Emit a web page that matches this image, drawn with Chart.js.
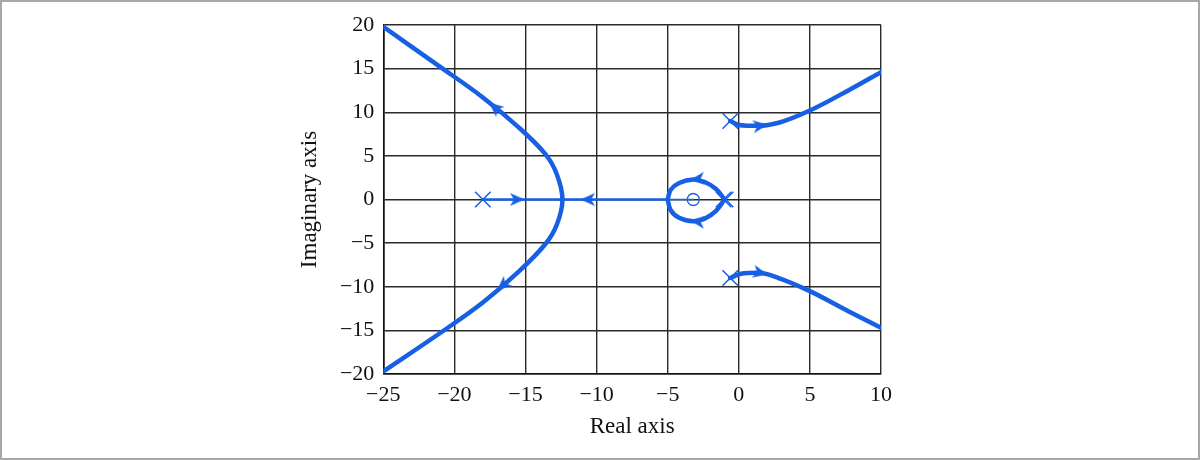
<!DOCTYPE html>
<html>
<head>
<meta charset="utf-8">
<script src="https://cdn.jsdelivr.net/npm/chart.js@4.4.1/dist/chart.umd.min.js"></script>
<style>
  html, body { margin: 0; padding: 0; background: #fff; }
  canvas { display: block; }
</style>
</head>
<body>
<canvas id="locusChart" width="1200" height="460"></canvas>
<script>
// root locus branches (real, imaginary)
const leftBranch = [
  [-25, 19.8], [-21, 15.2], [-18, 11.7], [-15.5, 8.3], [-13.6, 5.2], [-12.8, 2.9], [-12.4, 0],
  [-12.8, -2.9], [-13.6, -5.1], [-15.5, -8.3], [-18, -11.8], [-21, -15.3], [-25, -19.7]
];
const axisFromPole = [[-18, 0], [-12.4, 0]];
const axisToBreak = [[-12.4, 0], [-5, 0]];
const axisToZero = [[-5, 0], [-3.2, 0]];
const loopTop = [[-1, 0], [-1.6, 1.2], [-2.4, 2.0], [-3.2, 2.3], [-4.2, 1.9], [-4.8, 1.1], [-5, 0]];
const loopBottom = [[-1, 0], [-1.6, -1.3], [-2.4, -2.2], [-3.2, -2.5], [-4.2, -2.1], [-4.8, -1.2], [-5, 0]];
const upperRight = [[-0.6, 9], [0, 8.55], [1.4, 8.45], [2.8, 8.8], [5, 10.2], [7.7, 12.5], [10, 14.6]];
const lowerRight = [[-0.6, -9], [0.15, -8.5], [1.4, -8.4], [2.8, -9.0], [5, -10.5], [7.7, -12.8], [10, -14.7]];

// open-loop poles and zeros
const poles = [[-18, 0], [-1.07, 0], [-0.93, 0], [-0.6, 9], [-0.6, -9]];
const zeros = [[-3.2, 0]];

// direction arrows: where they sit, and a point further along the branch
const arrowAt = [[-17.15, 10.55], [-16.6, -9.84], [-15.6, 0], [-10.6, 0], [-2.9, 2.33], [-2.9, -2.52], [1.5, 8.45], [1.5, -8.4]];
const arrowToward = [[-18, 11.7], [-17.4, -10.95], [-14, 0], [-12, 0], [-3.6, 2.2], [-3.6, -2.4], [2.6, 8.7], [2.6, -8.8]];

const xTicks = [-25, -20, -15, -10, -5, 0, 5, 10];
const yTicks = [-20, -15, -10, -5, 0, 5, 10, 15, 20];

const BLUE = '#1760e4';
const SERIF = "'Liberation Serif', 'Times New Roman', serif";

function pts(list) {
  return list.map(p => ({ x: p[0], y: p[1] }));
}

function lineSet(list, width, mode) {
  return {
    data: pts(list),
    showLine: true,
    borderColor: BLUE,
    borderWidth: width,
    pointRadius: 0,
    tension: mode === 'curve' ? 0.35 : 0,
    cubicInterpolationMode: mode === 'monotone' ? 'monotone' : 'default',
    borderCapStyle: 'round',
    borderJoinStyle: 'round',
    fill: false
  };
}

// arrowhead sprite pointing up
function makeArrow() {
  const c = document.createElement('canvas');
  c.width = 16;
  c.height = 16;
  const g = c.getContext('2d');
  g.fillStyle = BLUE;
  g.beginPath();
  g.moveTo(8, 0.5);
  g.lineTo(14.5, 15);
  g.lineTo(8, 11);
  g.lineTo(1.5, 15);
  g.closePath();
  g.fill();
  return c;
}
const arrowImg = makeArrow();

const minus = v => String(v).replace('-', '\u2212');

const frame = {
  id: 'frame',
  afterDraw(chart) {
    const ctx = chart.ctx;
    ctx.save();
    ctx.strokeStyle = '#a8a8a8';
    ctx.lineWidth = 2;
    ctx.strokeRect(1, 1, 1198, 458);
    ctx.restore();
  }
};

const ctx = document.getElementById('locusChart').getContext('2d');
new Chart(ctx, {
  type: 'scatter',
  data: {
    datasets: [
      lineSet(leftBranch, 4.5, 'curve'),
      lineSet(axisFromPole, 2.5, 'straight'),
      lineSet(axisToBreak, 2.5, 'straight'),
      lineSet(axisToZero, 1.5, 'straight'),
      lineSet(loopTop, 4.5, 'curve'),
      lineSet(loopBottom, 4.5, 'curve'),
      lineSet(upperRight, 4.5, 'monotone'),
      lineSet(lowerRight, 4.5, 'monotone'),
      {
        data: pts(poles),
        pointStyle: 'crossRot',
        pointRadius: 11,
        pointBorderColor: BLUE,
        pointBorderWidth: 1.5,
        showLine: false
      },
      {
        data: pts(zeros),
        pointStyle: 'circle',
        pointRadius: 6,
        pointBorderColor: BLUE,
        pointBackgroundColor: 'rgba(0,0,0,0)',
        pointBorderWidth: 1.3,
        showLine: false
      },
      {
        data: pts(arrowAt),
        pointStyle: arrowImg,
        pointRadius: 8,
        showLine: false,
        pointRotation: function (c) {
          const sx = c.chart.scales.x, sy = c.chart.scales.y;
          const a = arrowAt[c.dataIndex], t = arrowToward[c.dataIndex];
          if (!a || !t) return 0;
          const dx = sx.getPixelForValue(t[0]) - sx.getPixelForValue(a[0]);
          const dy = sy.getPixelForValue(t[1]) - sy.getPixelForValue(a[1]);
          return Math.atan2(dx, -dy) * 180 / Math.PI;
        }
      }
    ]
  },
  options: {
    responsive: false,
    animation: false,
    layout: { padding: { left: 296, right: 319, top: 25, bottom: 17 } },
    plugins: {
      legend: { display: false },
      tooltip: { enabled: false }
    },
    scales: {
      x: {
        type: 'linear',
        min: -25,
        max: 10,
        afterBuildTicks: s => { s.ticks = xTicks.map(v => ({ value: v })); },
        afterFit: s => { s.height = 69; },
        grid: { color: '#2a2a2a', lineWidth: 1.4, drawTicks: false },
        border: { color: '#111', width: 1.6 },
        ticks: {
          color: '#111',
          padding: 8,
          font: { family: SERIF, size: 22 },
          callback: v => minus(v)
        },
        title: {
          display: true,
          text: 'Real axis',
          color: '#111',
          font: { family: SERIF, size: 23 },
          padding: { top: 4, bottom: 2 }
        }
      },
      y: {
        type: 'linear',
        min: -20,
        max: 20,
        afterBuildTicks: s => { s.ticks = yTicks.map(v => ({ value: v })); },
        afterFit: s => { s.width = 87.3; },
        grid: { color: '#2a2a2a', lineWidth: 1.4, drawTicks: false },
        border: { color: '#111', width: 1.6 },
        ticks: {
          color: '#111',
          padding: 9,
          font: { family: SERIF, size: 22 },
          callback: v => minus(v)
        },
        title: {
          display: true,
          text: 'Imaginary axis',
          color: '#111',
          font: { family: SERIF, size: 23 },
          padding: { top: 0, bottom: 4 }
        }
      }
    }
  },
  plugins: [frame]
});
</script>
</body>
</html>
